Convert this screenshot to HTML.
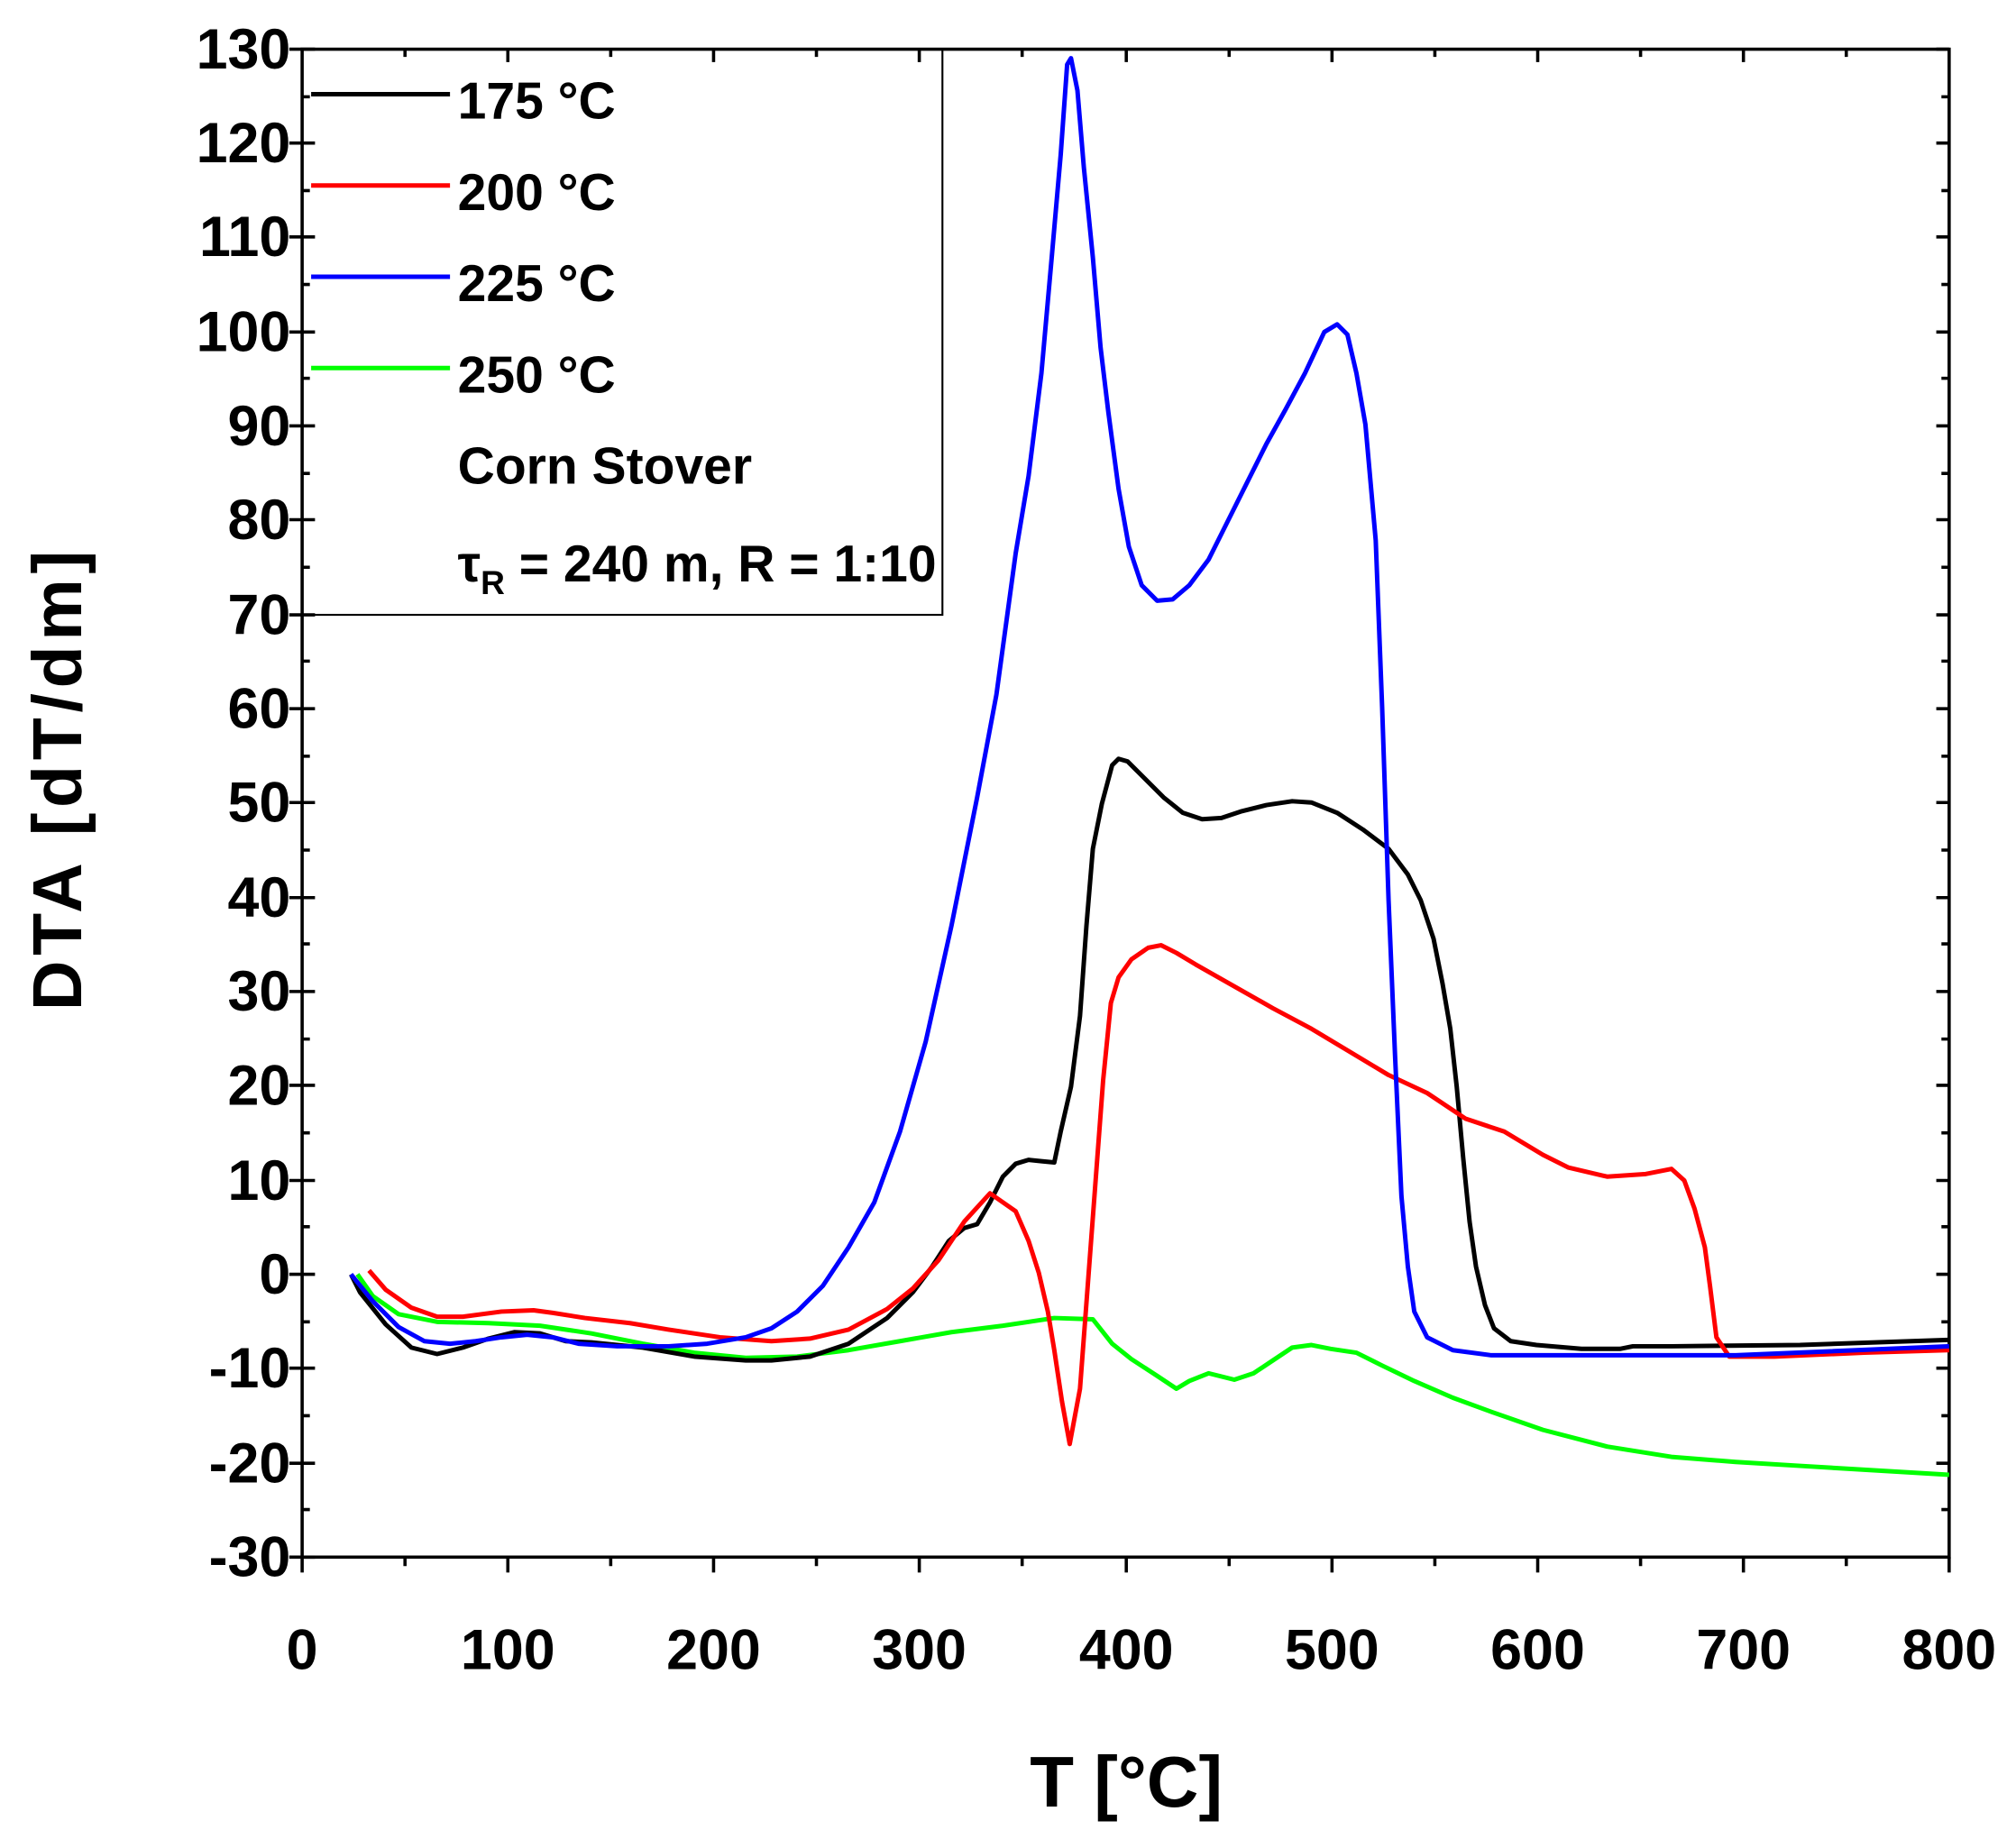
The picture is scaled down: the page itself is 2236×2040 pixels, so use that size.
<!DOCTYPE html>
<html><head><meta charset="utf-8"><style>
html,body{margin:0;padding:0;background:#fff;}
svg{display:block;}
text{font-family:"Liberation Sans",Arial,sans-serif;font-weight:bold;fill:#000;}
</style></head><body>
<svg width="2236" height="2040" viewBox="0 0 1568 1430" xmlns="http://www.w3.org/2000/svg">
<rect width="1568" height="1430" fill="#fff"/>
<g stroke="#000" stroke-width="2.5" fill="none">
<rect x="235" y="38" width="1281" height="1173"/>
<path d="M225,38h20M225,111h20M225,184h20M225,258h20M225,331h20M225,404h20M225,478h20M225,551h20M225,624h20M225,698h20M225,771h20M225,844h20M225,918h20M225,991h20M225,1064h20M225,1138h20M225,1211h20"/>
<path d="M1506,38h10M1506,111h10M1506,184h10M1506,258h10M1506,331h10M1506,404h10M1506,478h10M1506,551h10M1506,624h10M1506,698h10M1506,771h10M1506,844h10M1506,918h10M1506,991h10M1506,1064h10M1506,1138h10"/>
<path d="M235,75h6M235,148h6M235,221h6M235,294h6M235,368h6M235,441h6M235,514h6M235,588h6M235,661h6M235,734h6M235,808h6M235,881h6M235,954h6M235,1028h6M235,1101h6M235,1174h6"/>
<path d="M1510,75h6M1510,148h6M1510,221h6M1510,294h6M1510,368h6M1510,441h6M1510,514h6M1510,588h6M1510,661h6M1510,734h6M1510,808h6M1510,881h6M1510,954h6M1510,1028h6M1510,1101h6M1510,1174h6"/>
<path d="M235,1211v12M395,1211v12M555,1211v12M715,1211v12M876,1211v12M1036,1211v12M1196,1211v12M1356,1211v12M1516,1211v12"/>
<path d="M315,1211v7M475,1211v7M635,1211v7M795,1211v7M956,1211v7M1116,1211v7M1276,1211v7M1436,1211v7"/>
<path d="M395,38v10M555,38v10M715,38v10M876,38v10M1036,38v10M1196,38v10M1356,38v10M315,38v6M475,38v6M635,38v6M795,38v6M956,38v6M1116,38v6M1276,38v6M1436,38v6"/>
</g>
<g font-size="44" text-anchor="end">
<text x="226" y="53">130</text><text x="226" y="126">120</text><text x="226" y="199">110</text><text x="226" y="273">100</text>
<text x="226" y="346">90</text><text x="226" y="419">80</text><text x="226" y="493">70</text><text x="226" y="566">60</text>
<text x="226" y="639">50</text><text x="226" y="713">40</text><text x="226" y="786">30</text><text x="226" y="859">20</text>
<text x="226" y="933">10</text><text x="226" y="1006">0</text><text x="226" y="1079">-10</text><text x="226" y="1153">-20</text><text x="226" y="1226">-30</text>
</g>
<g font-size="44" text-anchor="middle">
<text x="235" y="1298">0</text><text x="395" y="1298">100</text><text x="555" y="1298">200</text><text x="715" y="1298">300</text>
<text x="876" y="1298">400</text><text x="1036" y="1298">500</text><text x="1196" y="1298">600</text><text x="1356" y="1298">700</text><text x="1516" y="1298">800</text>
</g>
<text x="876" y="1405" font-size="56" text-anchor="middle">T [°C]</text>
<text transform="translate(63,605) rotate(-90)" font-size="54" text-anchor="middle" letter-spacing="4">DTA [dT/dm]</text>
<g fill="none" stroke-width="3.5" stroke-linejoin="round">
<polyline stroke="#00ff00" points="278,991 290,1008 310,1022 340,1028 380,1029 420,1031 460,1037 500,1045 540,1052 580,1056 620,1055 660,1050 700,1043 740,1036 780,1031 820,1025 850,1026 865,1045 880,1057 900,1070 915,1080 925,1074 940,1068 960,1073 975,1068 990,1058 1005,1048 1020,1046 1035,1049 1055,1052 1075,1062 1100,1074 1130,1087 1160,1098 1200,1112 1250,1125 1300,1133 1350,1137 1400,1140 1450,1143 1516,1147"/>
<polyline stroke="#000" points="273,991 280,1005 300,1030 320,1048 340,1053 360,1048 380,1041 400,1036 420,1037 440,1043 460,1044 500,1048 540,1055 580,1058 600,1058 630,1055 660,1045 690,1025 710,1005 725,985 738,965 750,955 760,952 770,935 780,915 790,905 800,902 810,903 820,904 825,880 833,845 840,790 845,720 850,660 857,625 865,595 870,590 877,592 890,605 905,620 920,632 935,637 950,636 965,631 985,626 1005,623 1020,624 1040,632 1060,645 1080,660 1095,680 1105,700 1115,730 1122,765 1128,800 1133,845 1138,900 1143,950 1148,985 1155,1015 1162,1033 1175,1043 1195,1046 1230,1049 1260,1049 1270,1047 1300,1047 1400,1046 1516,1042"/>
<polyline stroke="#ff0000" points="287,988 300,1003 320,1017 340,1024 360,1024 390,1020 415,1019 430,1021 455,1025 490,1029 520,1034 560,1040 600,1043 630,1041 660,1034 690,1018 710,1002 730,980 750,950 770,928 790,942 800,965 808,990 815,1020 820,1050 826,1090 832,1123 840,1080 846,1000 852,920 858,840 864,780 870,760 880,746 893,737 903,735 915,741 930,750 960,767 990,784 1020,800 1050,818 1080,836 1110,850 1140,870 1170,880 1200,898 1220,908 1250,915 1280,913 1300,909 1310,918 1318,940 1326,970 1330,1000 1335,1040 1345,1055 1380,1055 1450,1052 1516,1050"/>
<polyline stroke="#0000ff" points="273,991 290,1012 310,1032 330,1043 350,1045 370,1043 390,1040 410,1038 430,1040 450,1045 480,1047 520,1047 550,1045 580,1040 600,1033 620,1020 640,1000 660,970 680,935 700,880 720,810 740,720 760,620 775,540 790,430 800,370 810,290 818,200 825,120 830,50 833,45 838,70 843,130 850,200 856,270 862,320 870,380 878,425 888,455 900,467 912,466 925,455 940,435 955,405 970,375 985,345 1000,318 1015,290 1030,258 1040,252 1048,260 1055,290 1062,330 1070,420 1075,550 1080,700 1085,820 1090,930 1095,985 1100,1020 1110,1040 1130,1050 1160,1054 1250,1054 1350,1054 1516,1047"/>
</g>
<rect x="235" y="38" width="498" height="440" fill="none" stroke="#000" stroke-width="1.5"/>
<g stroke-width="3.5">
<line x1="242" y1="73" x2="350" y2="73" stroke="#000"/>
<line x1="242" y1="144" x2="350" y2="144" stroke="#ff0000"/>
<line x1="242" y1="215" x2="350" y2="215" stroke="#0000ff"/>
<line x1="242" y1="286" x2="350" y2="286" stroke="#00ff00"/>
</g>
<g font-size="40">
<text x="356" y="92">175 °C</text>
<text x="356" y="163">200 °C</text>
<text x="356" y="234">225 °C</text>
<text x="356" y="305">250 °C</text>
<text x="356" y="376">Corn Stover</text>
<text x="356" y="452">τ<tspan font-size="26" dy="10">R</tspan><tspan dy="-10"> = 240 m, R = 1:10</tspan></text>
</g>
</svg>
</body></html>
